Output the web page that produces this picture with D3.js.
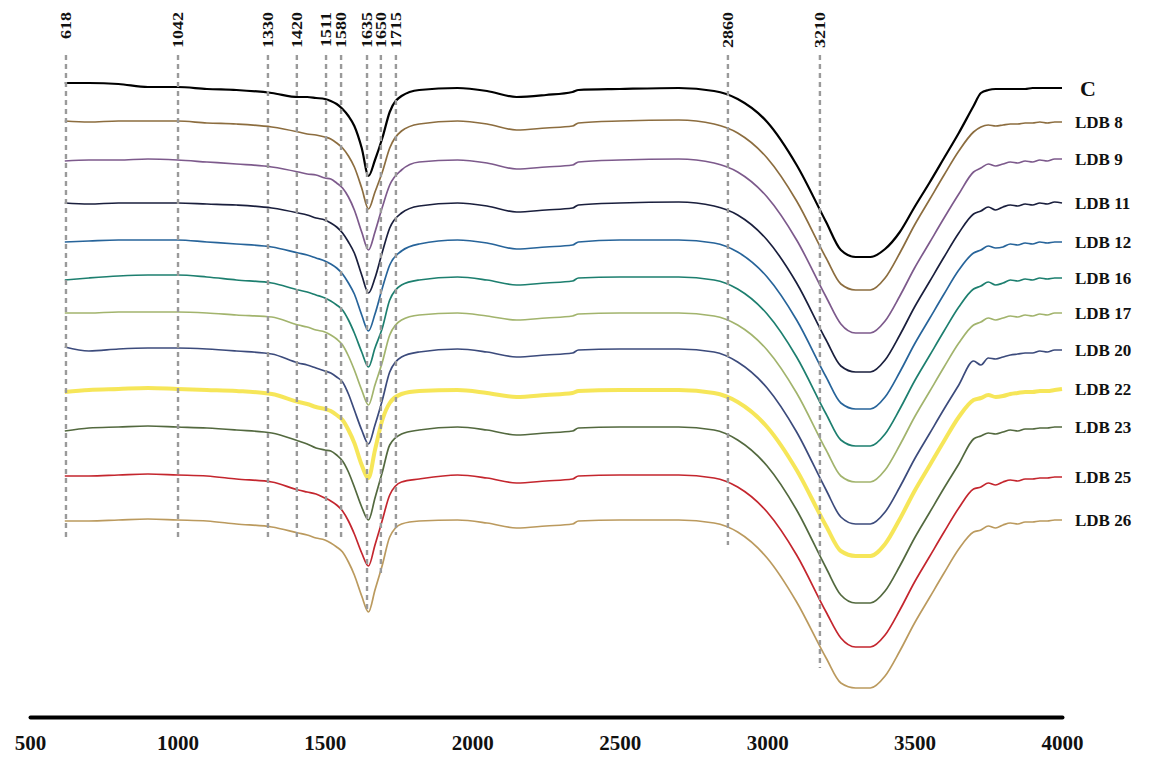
<!DOCTYPE html>
<html>
<head>
<meta charset="utf-8">
<script src="https://cdn.jsdelivr.net/npm/d3@7"></script>
<style>
  body { margin: 0; background: #fff; }
  text { font-family: "Liberation Serif", "Times New Roman", serif; font-weight: bold; fill: #111; }
</style>
</head>
<body>
<div id="chart"></div>
<script>
/*global d3*/

// wavenumber grid (cm-1) shared by all spectra
var wavenumbers = [618, 700, 800, 900, 1000, 1100, 1200, 1320, 1410, 1440,
  1470, 1500, 1520, 1540, 1560, 1580, 1600, 1625, 1648, 1670,
  1695, 1720, 1760, 1820, 1950, 2050, 2150, 2250, 2340, 2360,
  2500, 2700, 2820, 2900, 3000, 3100, 3200, 3250, 3300, 3350,
  3400, 3450, 3500, 3550, 3600, 3650, 3700, 3725, 3750, 3775,
  3800, 3825, 3850, 3875, 3900, 3925, 3950, 3975, 4000];

// transmittance (a.u., stacked)
var C = [63.7, 63.7, 63.6, 63.3, 63.3, 63.1, 63.0, 62.7, 62.3, 62.3,
  62.2, 62.1, 61.9, 61.6, 61.1, 60.4, 59.4, 57.2, 54.4, 56.0,
  58.2, 60.8, 62.4, 63.0, 63.2, 62.9, 62.3, 62.5, 62.8, 63.0,
  63.1, 63.2, 62.9, 62.1, 59.8, 55.5, 49.8, 47.0, 46.3, 46.3,
  47.1, 48.8, 51.3, 53.7, 56.2, 58.7, 61.4, 62.7, 63.0, 63.1,
  63.1, 63.1, 63.1, 63.1, 63.2, 63.2, 63.2, 63.2, 63.2];
var LDB8 = [59.9, 59.8, 59.9, 59.9, 59.9, 59.7, 59.6, 59.3, 58.8, 58.6,
  58.5, 58.3, 58.1, 57.7, 57.2, 56.4, 55.3, 53.2, 51.1, 52.8,
  54.8, 57.2, 58.9, 59.6, 59.9, 59.6, 59.0, 59.2, 59.4, 59.7,
  59.9, 60.0, 59.6, 58.7, 56.2, 51.9, 46.2, 43.6, 43.0, 43.0,
  44.2, 46.7, 49.5, 52.0, 54.5, 56.9, 58.8, 59.3, 59.5, 59.4,
  59.5, 59.6, 59.6, 59.7, 59.7, 59.8, 59.7, 59.8, 59.8];
var LDB9 = [55.9, 56.0, 56.0, 56.1, 56.0, 55.8, 55.6, 55.3, 54.8, 54.6,
  54.5, 54.2, 54.1, 53.7, 53.2, 52.3, 51.0, 48.8, 47.0, 48.8,
  51.3, 53.5, 55.0, 55.8, 56.0, 55.7, 55.1, 55.3, 55.5, 55.8,
  56.0, 56.1, 55.7, 54.8, 52.3, 48.0, 42.3, 39.6, 38.7, 38.7,
  39.9, 42.4, 45.2, 47.7, 50.2, 52.6, 54.8, 55.2, 55.6, 55.4,
  55.6, 55.8, 55.7, 55.9, 55.8, 56.0, 55.9, 56.1, 56.1];
var LDB11 = [51.7, 51.6, 51.7, 51.7, 51.7, 51.6, 51.5, 51.2, 50.7, 50.5,
  50.2, 50.0, 49.7, 49.3, 48.7, 47.8, 46.7, 44.5, 42.7, 44.2,
  46.8, 49.2, 50.7, 51.4, 51.7, 51.4, 50.8, 51.0, 51.2, 51.5,
  51.7, 51.8, 51.4, 50.5, 48.0, 43.7, 38.0, 35.4, 34.8, 34.8,
  36.0, 38.5, 41.3, 43.8, 46.3, 48.7, 50.6, 50.9, 51.3, 51.0,
  51.3, 51.5, 51.4, 51.6, 51.5, 51.7, 51.6, 51.8, 51.7];
var LDB12 = [47.8, 47.9, 48.0, 48.0, 48.0, 47.8, 47.6, 47.3, 46.7, 46.5,
  46.2, 45.9, 45.6, 45.2, 44.6, 43.7, 42.6, 40.5, 38.9, 40.6,
  43.2, 45.5, 46.9, 47.6, 48.0, 47.7, 47.1, 47.3, 47.5, 47.8,
  48.0, 48.0, 47.7, 46.8, 44.3, 40.0, 34.3, 31.7, 31.1, 31.1,
  32.3, 34.8, 37.6, 40.1, 42.6, 45.0, 46.7, 47.0, 47.4, 47.2,
  47.3, 47.6, 47.5, 47.7, 47.6, 47.8, 47.7, 47.8, 47.8];
var LDB16 = [44.0, 44.2, 44.4, 44.5, 44.5, 44.3, 44.0, 43.7, 43.0, 42.8,
  42.5, 42.2, 41.9, 41.5, 41.0, 40.0, 38.7, 36.8, 35.3, 37.2,
  39.2, 42.0, 43.5, 44.0, 44.3, 44.0, 43.5, 43.7, 43.9, 44.2,
  44.3, 44.3, 44.0, 43.1, 40.6, 36.3, 30.6, 28.0, 27.4, 27.4,
  28.6, 31.1, 33.9, 36.4, 38.9, 41.3, 43.1, 43.4, 43.8, 43.5,
  43.7, 44.0, 43.9, 44.1, 44.0, 44.2, 44.1, 44.2, 44.2];
var LDB17 = [40.7, 40.7, 40.8, 40.8, 40.8, 40.7, 40.5, 40.3, 39.5, 39.3,
  39.0, 38.8, 38.5, 38.1, 37.5, 36.4, 35.0, 33.0, 31.5, 33.5,
  35.8, 38.5, 40.0, 40.5, 40.7, 40.4, 40.0, 40.2, 40.4, 40.6,
  40.7, 40.7, 40.4, 39.5, 37.0, 32.7, 27.0, 24.4, 23.8, 23.8,
  25.0, 27.5, 30.3, 32.8, 35.3, 37.7, 39.5, 39.8, 40.2, 40.0,
  40.2, 40.4, 40.3, 40.5, 40.4, 40.6, 40.5, 40.7, 40.7];
var LDB20 = [37.3, 36.9, 37.1, 37.2, 37.2, 37.1, 36.9, 36.6, 35.7, 35.5,
  35.2, 34.9, 34.7, 34.3, 33.8, 32.6, 31.0, 29.0, 27.6, 29.5,
  32.0, 34.8, 36.3, 36.8, 37.1, 36.8, 36.3, 36.5, 36.7, 37.0,
  37.1, 37.1, 36.8, 35.8, 33.2, 28.8, 23.0, 20.3, 19.6, 19.6,
  20.8, 23.3, 26.1, 28.6, 31.1, 33.5, 35.9, 35.5, 36.2, 36.1,
  36.3, 36.5, 36.6, 36.7, 36.7, 36.9, 36.8, 37.0, 37.0];
var LDB22 = [32.8, 33.0, 33.1, 33.2, 33.1, 33.0, 32.9, 32.6, 31.8, 31.6,
  31.3, 31.1, 30.9, 30.5, 30.0, 29.0, 27.7, 25.5, 24.2, 27.0,
  30.0, 31.7, 32.6, 32.9, 33.0, 32.7, 32.3, 32.5, 32.7, 32.9,
  33.0, 33.0, 32.7, 31.8, 29.3, 25.0, 19.4, 16.9, 16.4, 16.4,
  17.6, 20.1, 22.9, 25.4, 27.9, 30.3, 32.0, 32.2, 32.5, 32.3,
  32.4, 32.6, 32.7, 32.8, 32.8, 32.9, 32.9, 33.0, 33.1];
var LDB23 = [28.9, 29.2, 29.3, 29.4, 29.3, 29.2, 29.0, 28.7, 27.9, 27.6,
  27.2, 27.0, 26.9, 26.5, 25.9, 24.8, 23.3, 21.3, 20.0, 22.2,
  24.8, 27.5, 28.6, 29.0, 29.3, 29.0, 28.5, 28.7, 28.9, 29.2,
  29.3, 29.3, 29.0, 28.0, 25.4, 21.0, 15.2, 12.5, 11.7, 11.7,
  12.9, 15.4, 18.2, 20.7, 23.2, 25.6, 28.1, 28.4, 28.7, 28.6,
  28.8, 29.0, 28.9, 29.1, 29.1, 29.2, 29.2, 29.3, 29.3];
var LDB25 = [24.4, 24.4, 24.5, 24.6, 24.5, 24.4, 24.1, 23.8, 23.0, 22.8,
  22.6, 22.2, 21.9, 21.5, 20.9, 19.9, 18.6, 16.7, 15.4, 17.5,
  20.0, 22.5, 23.8, 24.1, 24.5, 24.2, 23.7, 23.9, 24.1, 24.4,
  24.5, 24.5, 24.2, 23.3, 20.8, 16.5, 10.8, 8.2, 7.3, 7.3,
  8.5, 11.0, 13.8, 16.3, 18.8, 21.2, 23.1, 23.3, 23.7, 23.5,
  23.8, 24.0, 23.9, 24.1, 24.1, 24.2, 24.2, 24.3, 24.3];
var LDB26 = [19.9, 19.9, 20.0, 20.1, 20.0, 19.9, 19.6, 19.3, 18.7, 18.5,
  18.2, 18.0, 17.7, 17.3, 16.8, 15.8, 14.5, 12.4, 10.8, 13.0,
  15.5, 18.3, 19.6, 19.9, 20.0, 19.7, 19.2, 19.4, 19.6, 19.9,
  20.0, 20.0, 19.7, 18.8, 16.2, 11.8, 6.2, 3.7, 3.2, 3.2,
  4.4, 6.9, 9.7, 12.2, 14.7, 17.1, 18.8, 19.0, 19.4, 19.2,
  19.5, 19.7, 19.6, 19.8, 19.8, 19.9, 19.9, 20.0, 20.0];

var seriesNames = ["C", "LDB 8", "LDB 9", "LDB 11", "LDB 12", "LDB 16",
  "LDB 17", "LDB 20", "LDB 22", "LDB 23", "LDB 25", "LDB 26"];
var seriesValues = [C, LDB8, LDB9, LDB11, LDB12, LDB16, LDB17, LDB20, LDB22, LDB23, LDB25, LDB26];
var seriesColors = ["#000000", "#8c6d3f", "#7d5a8c", "#1a1f3d", "#27649a", "#1d7f6f",
  "#a2b46d", "#3c4b7c", "#f4e23c", "#53693f", "#c4262e", "#bb9a5e"];

// band markers: label and where the dashed line sits on the wavenumber axis
var markerLabels = ["618", "1042", "1330", "1420", "1511", "1580", "1635", "1650", "1715", "2860", "3210"];
var markerAt = [622, 1002, 1307, 1405, 1504, 1555, 1643, 1690, 1741, 2867, 3179];
var markerReach = [18.0, 18.0, 18.0, 18.2, 18.0, 18.0, 10.7, 14.4, 18.5, 17.5, 5.2];

var tickValues = [500, 1000, 1500, 2000, 2500, 3000, 3500, 4000];

var width = 1158,
    height = 757;

var x = d3.scaleLinear()
  .domain([500, 4000])
  .range([30, 1062]);

var y = d3.scaleLinear()
  .domain([0, 68])
  .range([720, 40]);

var svg = d3.select("#chart").append("svg")
  .attr("width", width)
  .attr("height", height);

var line = d3.line()
  .x(function(d, i){ return x(wavenumbers[i]); })
  .y(function(d){ return y(d); })
  .curve(d3.curveMonotoneX);

// spectra
svg.append("g").selectAll("path")
  .data(seriesValues)
  .enter()
  .append("path")
  .attr("d", line)
  .style("fill", "none")
  .style("stroke", function(d, i){ return seriesColors[i]; })
  .style("stroke-width", function(d, i){
    if (i == 0) return 2.2;
    if (i == 8) return 4;
    return 1.7;
  })
  .style("stroke-opacity", function(d, i){ return i == 8 ? 0.85 : 1; })
  .style("stroke-linejoin", "round");

// dashed band markers
var markers = svg.append("g");
markers.selectAll("line")
  .data(markerAt)
  .enter()
  .append("line")
  .attr("x1", function(d){ return x(d); })
  .attr("x2", function(d){ return x(d); })
  .attr("y1", y(66.5))
  .attr("y2", function(d, i){ return y(markerReach[i]); })
  .style("stroke", "#9a9a9a")
  .style("stroke-width", 2.4)
  .style("stroke-dasharray", "5,4");

markers.selectAll("text")
  .data(markerAt)
  .enter()
  .append("text")
  .attr("transform", function(d){ return "translate(" + x(d) + ",12) rotate(-90) scale(1,0.85)"; })
  .attr("dy", "0.34em")
  .attr("text-anchor", "end")
  .style("font-size", "18px")
  .text(function(d, i){ return markerLabels[i]; });

// series labels at the right end of each spectrum
svg.append("g").selectAll("text")
  .data(seriesValues)
  .enter()
  .append("text")
  .attr("x", function(d, i){ return i == 0 ? 1080 : 1075; })
  .attr("y", function(d){ return y(d[d.length - 1]); })
  .attr("dy", "0.35em")
  .style("font-size", function(d, i){ return i == 0 ? "22px" : "17px"; })
  .text(function(d, i){ return seriesNames[i]; });

// x axis: heavy baseline with bold tick labels
var axis = svg.append("g")
  .attr("transform", "translate(0,717)")
  .call(d3.axisBottom(x).tickValues(tickValues).tickSize(0).tickPadding(18).tickFormat(d3.format("d")));

axis.select(".domain")
  .attr("stroke", "#000")
  .attr("stroke-width", 4)
  .attr("stroke-linecap", "round");

axis.selectAll("text")
  .style("font-family", "\"Liberation Serif\", \"Times New Roman\", serif")
  .style("font-weight", "bold")
  .style("font-size", "21px")
  .style("fill", "#111");
</script>
</body>
</html>
